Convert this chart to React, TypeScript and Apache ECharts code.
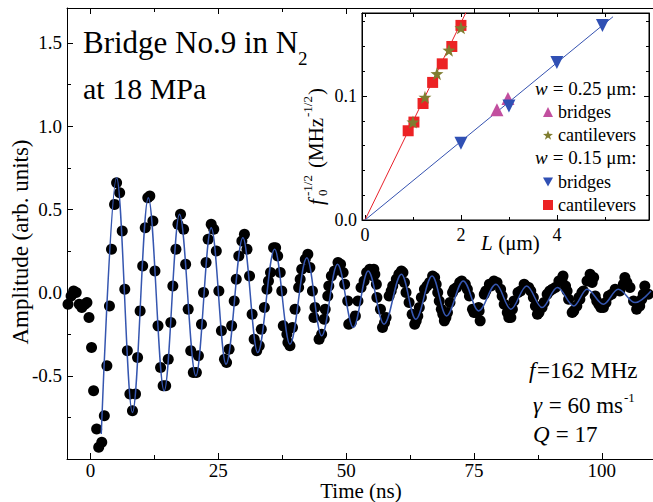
import React, { useEffect, useRef } from 'react';
import * as echarts from 'echarts';

const FONT = 'Liberation Serif, serif';

// ---------- main panel: measured ring-down (time in ns, amplitude in arb. units)
const timeEarly = [
  -4.4, -3.8, -3.3, -2.8, -2.2, -1.7, -1.1, -0.7, -0.3,
  0.2, 0.6, 1.2, 1.6, 2.2, 2.7, 3.2, 3.7, 4.1, 4.7, 5.1, 5.7, 6.2, 6.7, 7.2, 7.7, 8.2, 8.8, 9.2, 9.7,
  10.2, 10.7, 11.2, 11.6, 12.2, 12.6, 13.2, 13.7, 14.2, 14.7, 15.2, 15.7, 16.1, 16.7, 17.1, 17.6, 18.2,
  18.6, 19.1, 19.6, 20.1, 20.7, 21.1, 21.7, 22.1, 22.6, 23.0, 23.6, 24.1, 24.6, 25.1, 25.6, 26.2, 26.6,
  27.1, 27.6, 28.1, 28.5, 29.0, 29.6, 30.1, 30.6, 31.1, 31.6, 32.0, 32.5, 33.0, 33.4, 34.0, 34.5, 34.8,
  35.2, 35.8, 36.2, 36.6, 37.1, 37.4, 37.7, 38.4, 38.6, 39.0, 39.5, 40.0, 40.7, 41.0, 41.3, 42.0, 42.5,
  42.9, 43.4, 43.7, 43.9, 44.7, 45.2, 45.7, 45.9, 46.4, 46.6, 47.1, 47.7, 48.4, 48.9, 49.4, 49.7, 50.3,
  50.5, 51.0, 51.8, 52.3, 52.9, 53.5, 54.0, 54.6,
];
const ampEarly = [
  -0.07, -0.02, 0.01, 0.0, -0.07, -0.09, -0.07, -0.06, -0.15,
  -0.33, -0.59, -0.82, -0.93, -0.90, -0.74, -0.44, -0.08, 0.26, 0.53, 0.66, 0.60, 0.37, 0.02, -0.35, -0.61, -0.71, -0.61, -0.39, -0.11,
  0.16, 0.39, 0.57, 0.58, 0.43, 0.13, -0.20, -0.45, -0.56, -0.56, -0.40, -0.18, 0.04, 0.26, 0.41, 0.47, 0.38,
  0.17, -0.10, -0.35, -0.48, -0.48, -0.38, -0.19, 0.0, 0.18, 0.32, 0.41, 0.38, 0.25, 0.01, -0.23, -0.40, -0.42,
  -0.34, -0.20, -0.05, 0.08, 0.22, 0.31, 0.35, 0.26, 0.10, -0.13, -0.28, -0.35, -0.32, -0.22, -0.09, 0.02, 0.07,
  0.12, 0.27, 0.27, 0.22, 0.12, 0.01, -0.20, -0.25, -0.30, -0.32, -0.21, -0.10, 0.03, 0.08, 0.14, 0.20, 0.23,
  0.15, 0.01, -0.15, -0.09, -0.28, -0.25, -0.16, -0.10, -0.02, 0.04, 0.10, 0.13, 0.18, 0.17, 0.12, 0.05, -0.05,
  -0.19, -0.18, -0.14, -0.05, 0.03, 0.07, 0.12, 0.14,
];
const timeLate = [
  55.3, 55.4, 55.6, 55.9, 56.0, 56.7, 57.1, 57.5, 57.8, 58.4, 58.8, 59.1, 59.8, 60.3, 60.8, 61.1, 61.4, 61.7,
  62.3, 62.9, 63.4, 63.7, 64.0, 64.3, 64.7, 65.3, 65.8, 66.3, 66.9, 67.3, 67.6, 67.9, 68.2, 68.6, 68.9, 69.2,
  69.5, 69.8, 70.3, 70.8, 71.1, 71.6, 72.2, 72.6, 73.3, 73.7, 74.1, 74.7, 75.0, 75.4, 75.9, 76.0, 76.2, 77.0,
  77.3, 78.0, 78.3, 78.9, 79.5, 80.2, 80.5, 80.9, 81.5, 81.8, 82.2, 82.5, 82.8, 83.6, 84.1, 84.8, 85.1, 85.7,
  86.1, 86.6, 87.0, 87.4, 87.7, 88.3, 88.7, 89.3, 89.8, 90.3, 90.9, 91.6, 92.2, 92.4, 92.9, 93.2, 93.5, 94.2,
  94.5, 95.1, 95.5, 95.7, 96.1, 96.4, 97.1, 97.7, 98.1, 98.4, 98.7, 99.0, 99.4, 99.8, 100.3, 100.8, 101.3,
  101.9, 102.6, 103.5, 104.2, 104.5, 104.9, 105.5, 106.2, 106.8, 107.4, 107.8, 108.1, 108.4, 109.1,
];
const ampLate = [
  0.10, 0.14, 0.11, 0.05, -0.03, -0.10, -0.21, -0.18, -0.15, -0.02, 0.01, 0.04, 0.08, 0.11, 0.13, 0.12, 0.06, 0.0,
  -0.06, -0.13, -0.19, -0.17, -0.14, -0.09, -0.03, 0.02, 0.04, 0.06, 0.10, 0.09, 0.05, 0.0, -0.05, -0.10, -0.13, -0.17,
  -0.15, -0.12, -0.06, 0.0, 0.02, 0.03, 0.06, 0.07, 0.05, 0.02, -0.02, -0.10, -0.12, -0.12, -0.09, -0.11, -0.17, -0.01,
  0.01, 0.05, 0.04, 0.07, 0.06, 0.02, -0.02, -0.07, -0.12, -0.15, -0.15, -0.10, -0.05, 0.0, 0.01, 0.05, 0.04, 0.03,
  0.01, -0.03, -0.08, -0.13, -0.12, -0.09, -0.06, -0.01, 0.01, 0.02, 0.03, 0.07, 0.08, 0.10, 0.04, 0.01, -0.04, -0.12,
  -0.11, -0.08, -0.03, -0.04, 0.0, 0.01, 0.07, 0.11, 0.06, 0.09, -0.02, -0.05, -0.07, -0.09, -0.09, -0.06, -0.02,
  -0.01, 0.02, 0.01, 0.05, 0.09, 0.06, 0.03, -0.05, -0.10, -0.08, -0.04, -0.01, 0.04, -0.01,
];

// damped-oscillator fit, read at its turning points
const fitTime = [
  2.1, 5.1, 8.2, 11.3, 14.4, 17.4, 20.6, 23.6, 26.5, 29.8, 32.7, 36.0, 39.0, 42.3, 45.2, 48.3, 51.4, 54.3,
  57.4, 60.8, 63.6, 66.8, 69.6, 72.9, 75.9, 79.3, 82.2, 85.3, 88.3, 91.3, 94.5, 97.1, 100.3, 103.2, 106.5, 109.6,
];
const fitAmp = [
  -0.85, 0.69, -0.72, 0.57, -0.59, 0.47, -0.50, 0.39, -0.43, 0.33, -0.36, 0.26, -0.31, 0.21, -0.26, 0.17, -0.21, 0.13,
  -0.19, 0.11, -0.16, 0.10, -0.14, 0.07, -0.11, 0.05, -0.10, 0.04, -0.09, 0.03, -0.08, 0.02, -0.07, 0.02, -0.06, 0.01,
];

const mainXTicks = [0, 25, 50, 75, 100];
const mainXMinor = [12.5, 37.5, 62.5, 87.5];

// ---------- inset: f0^-1/2 versus L
const wideBridgeL = [2.75, 2.98];
const wideBridgeF = [0.089, 0.098];
const wideCantL = [1.0, 1.25, 1.5, 1.75, 2.0];
const wideCantF = [0.079, 0.099, 0.118, 0.137, 0.155];
const narrowBridgeL = [2.0, 3.0, 4.0, 4.95];
const narrowBridgeF = [0.062, 0.092, 0.127, 0.157];
const narrowCantL = [0.9, 1.02, 1.21, 1.41, 1.61, 1.81, 2.0];
const narrowCantF = [0.072, 0.079, 0.094, 0.111, 0.126, 0.14, 0.157];
const cantFitL = [0, 2.2];
const cantFitF = [0, 0.175];
const bridgeFitL = [0, 5.17];
const bridgeFitF = [0, 0.164];

const insetXTicks = [0, 2, 4];
const insetXMinor = [1, 3, 5];
const insetXTop = [0, 1, 2, 3, 4, 5];

const zip = (a: number[], b: number[]) => a.map((v, i) => [v, b[i]]);

const STAR =
  'path://M0,-10 L2.35,-3.24 L9.51,-3.09 L3.8,1.24 L5.88,8.09 L0,4 L-5.88,8.09 L-3.8,1.24 L-9.51,-3.09 L-2.35,-3.24 Z';
const DOWN_TRIANGLE = 'path://M0,0 L10,0 L5,9 Z';

const BLACK = '#000';

function xAxis(
  gridIndex: number,
  min: number,
  max: number,
  position: string,
  ticks: number[],
  len: number,
  labels: boolean,
  line: boolean,
  fontSize: number,
  margin: number
) {
  return {
    type: 'value',
    gridIndex,
    min,
    max,
    position,
    axisLine: { show: line, onZero: false, lineStyle: { color: BLACK, width: 1 } },
    axisTick: { show: true, inside: true, length: len, customValues: ticks, lineStyle: { color: BLACK } },
    axisLabel: {
      show: labels,
      customValues: ticks,
      fontFamily: FONT,
      fontSize,
      color: BLACK,
      margin,
    },
    splitLine: { show: false },
  };
}

export default function App() {
  const ref = useRef<HTMLDivElement>(null);

  useEffect(() => {
    if (!ref.current) return;
    const chart = echarts.init(ref.current, undefined, { renderer: 'svg' });

    const txt = (
      x: number,
      y: number,
      text: string,
      size: number,
      extra: Record<string, unknown> = {}
    ) => ({
      type: 'text',
      x,
      y,
      style: {
        text,
        fontFamily: FONT,
        fontSize: size,
        fill: BLACK,
        align: 'left',
        verticalAlign: 'middle',
        ...extra,
      },
    });
    const ital = { fontStyle: 'italic' };

    const legendBase = {
      orient: 'vertical',
      left: 543,
      padding: 0,
      itemWidth: 10,
      itemHeight: 10,
      itemGap: 5,
      formatter: (n: string) => n.split(' ')[1],
      textStyle: { fontFamily: FONT, fontSize: 18, color: BLACK, fontStyle: 'normal' },
    };

    const option = {
      animation: false,
      backgroundColor: '#fff',
      textStyle: { fontFamily: FONT },
      grid: [
        { left: 67, right: -2, top: 8, bottom: 43, show: false },
        {
          left: 362,
          right: 4,
          top: 13,
          bottom: 282,
          show: true,
          borderColor: BLACK,
          borderWidth: 1,
          backgroundColor: 'rgba(255,255,255,0)',
        },
      ],
      xAxis: [
        xAxis(0, -4.6, 110, 'bottom', mainXTicks, 6, true, true, 19, 2),
        xAxis(0, -4.6, 110, 'bottom', mainXMinor, 4, false, false, 19, 2),
        xAxis(0, -4.6, 110, 'top', mainXTicks, 6, false, true, 19, 2),
        xAxis(0, -4.6, 110, 'top', mainXMinor, 4, false, false, 19, 2),
        xAxis(1, -0.0625, 5.92, 'bottom', insetXTicks, 5, true, true, 18, 6),
        xAxis(1, -0.0625, 5.92, 'bottom', insetXMinor, 3, false, false, 18, 6),
        xAxis(1, -0.0625, 5.92, 'top', insetXTop, 4, false, true, 18, 6),
      ],
      yAxis: [
        {
          type: 'value',
          gridIndex: 0,
          min: -1,
          max: 1.71,
          interval: 0.5,
          position: 'left',
          axisLine: { show: true, onZero: false, lineStyle: { color: BLACK, width: 1 } },
          axisTick: { show: true, inside: true, length: 6, lineStyle: { color: BLACK } },
          minorTick: { show: true, splitNumber: 2, length: 4, lineStyle: { color: BLACK } },
          axisLabel: {
            fontFamily: FONT,
            fontSize: 19,
            color: BLACK,
            margin: 5,
            formatter: (v: number) => (v < -0.99 || v > 1.6 ? '' : v.toFixed(1)),
          },
          splitLine: { show: false },
          minorSplitLine: { show: false },
        },
        {
          type: 'value',
          gridIndex: 1,
          min: 0,
          max: 0.167,
          interval: 0.1,
          position: 'left',
          axisLine: { show: true, onZero: false, lineStyle: { color: BLACK, width: 1 } },
          axisTick: { show: true, inside: true, length: 5, lineStyle: { color: BLACK } },
          minorTick: { show: true, splitNumber: 5, length: 3, lineStyle: { color: BLACK } },
          axisLabel: {
            fontFamily: FONT,
            fontSize: 18,
            color: BLACK,
            margin: 5,
            formatter: (v: number) => (v > 0.15 ? '' : v.toFixed(1)),
          },
          splitLine: { show: false },
          minorSplitLine: { show: false },
        },
        {
          type: 'value',
          gridIndex: 1,
          min: 0,
          max: 0.167,
          interval: 0.1,
          position: 'right',
          axisLine: { show: true, onZero: false, lineStyle: { color: BLACK, width: 1 } },
          axisTick: { show: true, inside: true, length: 5, lineStyle: { color: BLACK } },
          minorTick: { show: true, splitNumber: 5, length: 3, lineStyle: { color: BLACK } },
          axisLabel: { show: false },
          splitLine: { show: false },
          minorSplitLine: { show: false },
        },
      ],
      legend: [
        { ...legendBase, top: 103, data: ['0.25 bridges', '0.25 cantilevers'] },
        {
          ...legendBase,
          top: 173,
          data: [{ name: '0.15 bridges', icon: DOWN_TRIANGLE }, '0.15 cantilevers'],
        },
      ],
      series: [
        {
          name: 'data',
          type: 'scatter',
          xAxisIndex: 0,
          yAxisIndex: 0,
          data: zip(timeEarly, ampEarly).concat(zip(timeLate, ampLate)),
          symbol: 'circle',
          symbolSize: 11,
          itemStyle: { color: BLACK, opacity: 1 },
          z: 2,
        },
        {
          name: 'fit',
          type: 'line',
          xAxisIndex: 0,
          yAxisIndex: 0,
          data: zip(fitTime, fitAmp),
          smooth: 0.36,
          smoothMonotone: 'x',
          showSymbol: false,
          symbol: 'none',
          lineStyle: { color: '#3556b0', width: 1.5 },
          z: 3,
        },
        {
          name: 'cantFit',
          type: 'line',
          xAxisIndex: 4,
          yAxisIndex: 1,
          data: zip(cantFitL, cantFitF),
          symbol: 'none',
          clip: true,
          lineStyle: { color: '#e8202a', width: 1 },
          z: 2,
        },
        {
          name: 'bridgeFit',
          type: 'line',
          xAxisIndex: 4,
          yAxisIndex: 1,
          data: zip(bridgeFitL, bridgeFitF),
          symbol: 'none',
          clip: true,
          lineStyle: { color: '#3552b0', width: 1 },
          z: 2,
        },
        {
          name: '0.25 bridges',
          type: 'scatter',
          xAxisIndex: 4,
          yAxisIndex: 1,
          data: zip(wideBridgeL, wideBridgeF),
          symbol: 'triangle',
          symbolSize: 13,
          itemStyle: { color: '#c24f9f', opacity: 1 },
          z: 3,
        },
        {
          name: '0.15 cantilevers',
          type: 'scatter',
          xAxisIndex: 4,
          yAxisIndex: 1,
          data: zip(narrowCantL, narrowCantF),
          symbol: 'rect',
          symbolSize: 11,
          itemStyle: { color: '#ec2224', opacity: 1 },
          z: 3,
        },
        {
          name: '0.25 cantilevers',
          type: 'scatter',
          xAxisIndex: 4,
          yAxisIndex: 1,
          data: zip(wideCantL, wideCantF),
          symbol: STAR,
          symbolSize: 13,
          itemStyle: { color: '#7f7d30', opacity: 1 },
          z: 4,
        },
        {
          name: '0.15 bridges',
          type: 'scatter',
          xAxisIndex: 4,
          yAxisIndex: 1,
          data: zip(narrowBridgeL, narrowBridgeF),
          symbol: DOWN_TRIANGLE,
          symbolSize: 13,
          itemStyle: { color: '#3050b4', opacity: 1 },
          z: 4,
        },
      ],
      graphic: [
        txt(83, 42, 'Bridge No.9 in N', 31),
        txt(298, 58, '2', 19),
        txt(83, 88, 'at 18 MPa', 30),
        txt(529, 370, 'f', 23, ital),
        txt(537, 370, '=162 MHz', 23),
        txt(533, 405, 'γ', 23, ital),
        txt(543, 405, ' = 60 ms', 23),
        txt(624, 397, '-1', 13),
        txt(533, 434, 'Q', 23, ital),
        txt(550, 434, ' = 17', 23),
        txt(361, 491, 'Time (ns)', 21, { align: 'center' }),
        {
          type: 'group',
          x: 20,
          y: 242,
          rotation: Math.PI / 2,
          children: [txt(0, 0, 'Amplitude (arb. units)', 23, { align: 'center' })],
        },
        txt(481, 243, 'L', 21, ital),
        txt(493, 243, ' (μm)', 21),
        txt(535, 88, 'w', 19, ital),
        txt(548, 88, ' = 0.25 μm:', 19),
        txt(535, 157, 'w', 19, ital),
        txt(548, 157, ' = 0.15 μm:', 19),
        {
          type: 'group',
          x: 316,
          y: 205,
          rotation: Math.PI / 2,
          children: [
            txt(0, 0, 'f', 21, ital),
            txt(9, 6, '0', 13),
            txt(9, -9, '-1/2', 13),
            txt(37, 0, '(MHz', 21),
            txt(88, -9, '-1/2', 13),
            txt(110, 0, ')', 21),
          ],
        },
      ],
    };

    chart.setOption(option as any);
    return () => chart.dispose();
  }, []);

  return (
    <div
      ref={ref}
      style={{ position: 'fixed', left: 0, top: 0, width: 653, height: 502, background: '#fff' }}
    />
  );
}
